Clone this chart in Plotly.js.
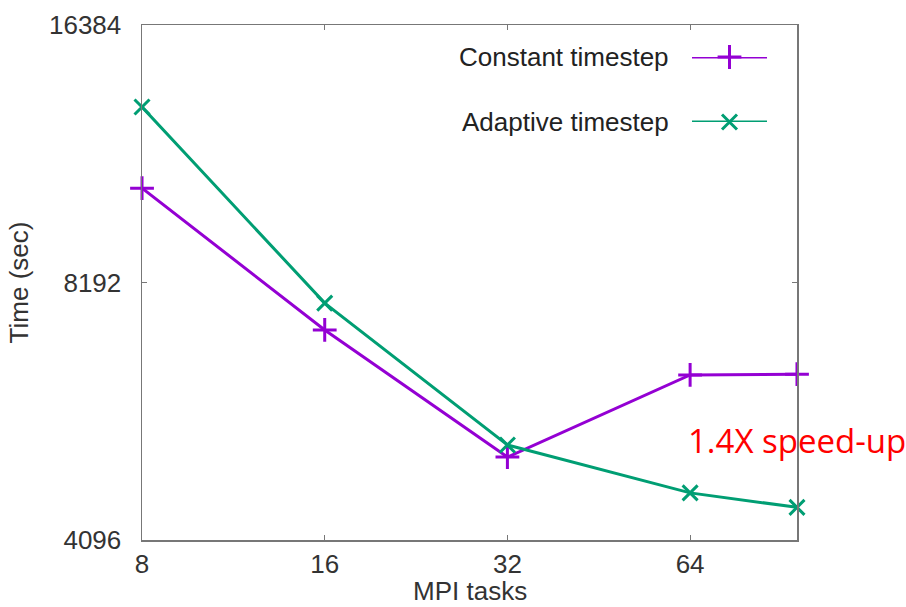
<!DOCTYPE html>
<html>
<head>
<meta charset="utf-8">
<script src="https://cdn.plot.ly/plotly-3.0.1.min.js"></script>
<style>html,body{margin:0;padding:0;background:#fff;}#chart{width:906px;height:607px;}</style>
</head>
<body>
<div id="chart"></div>
<script>
const mpiTasks = [8, 16, 32, 64, 96];
const constantTime = [10560, 7210, 5120, 6387, 6400];
const adaptiveTime = [13140, 7750, 5290, 4650, 4472];
const xTickVals = [8, 16, 32, 64];
const yTickVals = [4096, 8192, 16384];
const seriesNames = ["Constant timestep", "Adaptive timestep"];
const xTitle = "MPI tasks";
const yTitle = "Time (sec)";
const annotationText = "1.4X speed-up";

const purple = "#9400D3";
const green = "#009E73";
const font = "Liberation Sans, Arial, sans-serif";
const fs = 26;

function mk(sym, col, size){
  return {symbol: sym, size: size, color: col, line: {color: col, width: 3}};
}

const traces = [
  {x: mpiTasks, y: constantTime, mode: "lines+markers", name: seriesNames[0], cliponaxis: false,
   line: {color: purple, width: 3}, marker: mk("cross-thin-open", purple, 17), showlegend: false},
  {x: mpiTasks, y: adaptiveTime, mode: "lines+markers", name: seriesNames[1], cliponaxis: false,
   line: {color: green, width: 3}, marker: mk("x-thin-open", green, 15), showlegend: false},
  // legend samples drawn on an auxiliary axis
  {x: [0, 0.5, 1], y: [1, 1, 1], xaxis: "x2", yaxis: "y2", mode: "lines", cliponaxis: false, line: {color: purple, width: 3}, showlegend: false, hoverinfo: "skip"},
  {x: [0.5], y: [1], xaxis: "x2", yaxis: "y2", mode: "markers", cliponaxis: false, marker: mk("cross-thin-open", purple, 17), showlegend: false, hoverinfo: "skip"},
  {x: [0, 0.5, 1], y: [0, 0, 0], xaxis: "x2", yaxis: "y2", mode: "lines", cliponaxis: false, line: {color: green, width: 3}, showlegend: false, hoverinfo: "skip"},
  {x: [0.5], y: [0], xaxis: "x2", yaxis: "y2", mode: "markers", cliponaxis: false, marker: mk("x-thin-open", green, 15), showlegend: false, hoverinfo: "skip"}
];

const W = 906, H = 607;
const L = 142, R = 797, T = 25, B = 540;
const pw = R - L, ph = B - T;
function px(x){ return (x - L) / pw; }
function py(y){ return (B - y) / ph; }

const layout = {
  width: W, height: H,
  margin: {l: L, r: W - R, t: T, b: H - B, pad: 0},
  paper_bgcolor: "#fff", plot_bgcolor: "#fff",
  font: {family: font, size: fs, color: "#333"},
  xaxis: {
    type: "log", range: [Math.log10(7.9995), Math.log10(96.005)],
    tickvals: xTickVals, ticktext: xTickVals.map(String),
    ticks: "inside", ticklen: 5, tickcolor: "#777", tickwidth: 1,
    showline: true, linecolor: "#777", linewidth: 1.5, mirror: "ticks",
    showgrid: false, zeroline: false, ticklabelstandoff: 0,
    tickfont: {family: font, size: fs, color: "#333"}
  },
  yaxis: {
    type: "log", range: [Math.log10(4096), Math.log10(16384)],
    tickvals: yTickVals, ticktext: yTickVals.map(String),
    ticks: "inside", ticklen: 5, tickcolor: "#777", tickwidth: 1,
    showline: true, linecolor: "#777", linewidth: 1.5, mirror: "ticks",
    showgrid: false, zeroline: false, ticklabelstandoff: 14,
    tickfont: {family: font, size: fs, color: "#333"},
    title: {text: yTitle, font: {family: font, size: fs, color: "#333"}, standoff: 13}
  },
  xaxis2: {domain: [px(692), px(767)], range: [0, 1], anchor: "y2", visible: false, fixedrange: true},
  yaxis2: {domain: [py(122), py(57)], range: [0, 1], anchor: "x2", visible: false, fixedrange: true},
  annotations: [
    {xref: "paper", yref: "paper", x: 0.5, y: py(591), xanchor: "center", yanchor: "middle",
     text: xTitle, showarrow: false, font: {family: font, size: fs, color: "#333"}},
    {xref: "paper", yref: "paper", x: px(671), y: py(57), xanchor: "right", yanchor: "middle",
     text: seriesNames[0], showarrow: false, font: {family: font, size: fs, color: "#222"}},
    {xref: "paper", yref: "paper", x: px(671), y: py(122), xanchor: "right", yanchor: "middle",
     text: seriesNames[1], showarrow: false, font: {family: font, size: fs, color: "#222"}},
    {xref: "paper", yref: "paper", x: px(686), y: py(440), xanchor: "left", yanchor: "middle",
     text: annotationText, showarrow: false, font: {family: "Open Sans, sans-serif", size: 33, color: "#ff0000"}}
  ],
  showlegend: false
};

Plotly.newPlot("chart", traces, layout, {displayModeBar: false, staticPlot: true});
</script>
</body>
</html>
